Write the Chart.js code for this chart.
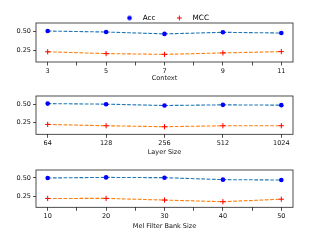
<!DOCTYPE html>
<html>
<head>
<meta charset="utf-8">
<script src="https://cdn.jsdelivr.net/npm/chart.js@4"></script>
<style>
  html, body { margin: 0; padding: 0; background: #fff; }
  #wrap { position: relative; width: 320px; height: 240px; overflow: hidden; }
  canvas { position: absolute; left: 0; }
</style>
</head>
<body>
<div id="wrap">
  <canvas id="c1" width="320" height="85" style="top:0px"></canvas>
  <canvas id="c2" width="320" height="75" style="top:85px"></canvas>
  <canvas id="c3" width="320" height="80" style="top:160px"></canvas>
</div>
<script>
// Context sweep
const contextValues = [3, 5, 7, 9, 11];
const contextMinor = [4, 6, 8, 10];
const contextAcc = [0.504, 0.491, 0.466, 0.487, 0.478];
const contextMcc = [0.230, 0.206, 0.196, 0.215, 0.232];

// Layer size sweep (evenly spaced categories)
const layerSizes = [64, 128, 256, 512, 1024];
const layerAcc = [0.508, 0.500, 0.482, 0.491, 0.487];
const layerMcc = [0.228, 0.210, 0.197, 0.210, 0.210];

// Mel filter bank sweep
const melValues = [10, 20, 30, 40, 50];
const melMinor = [15, 25, 35, 45];
const melAcc = [0.500, 0.508, 0.504, 0.477, 0.472];
const melMcc = [0.217, 0.218, 0.195, 0.172, 0.207];

const yTicks = [0.25, 0.50];

const FONT = 'DejaVu Sans';
const ACC_LINE = '#1f77b4';
const MCC_LINE = '#ff7f0e';

function markerImage(kind, color) {
    const c = document.createElement('canvas');
    c.width = 7; c.height = 7;
    const g = c.getContext('2d');
    if (kind === 'circle') {
        g.fillStyle = color;
        g.beginPath();
        g.arc(3.5, 3.5, 2.3, 0, Math.PI * 2);
        g.fill();
    } else {
        g.strokeStyle = color;
        g.lineWidth = 1;
        g.beginPath();
        g.moveTo(3.5, 1); g.lineTo(3.5, 6);
        g.moveTo(1, 3.5); g.lineTo(6, 3.5);
        g.stroke();
    }
    return c;
}

// box around the axes + legend centred over the axes, like matplotlib
const frame = {
    id: 'frame',
    beforeDraw(chart) {
        if (chart.legend && chart.options.plugins.legend.display) {
            chart.legend.left = chart.chartArea.left;
            chart.legend.right = chart.chartArea.right;
        }
    },
    afterDraw(chart) {
        const a = chart.chartArea;
        const ctx = chart.ctx;
        ctx.save();
        ctx.strokeStyle = '#222';
        ctx.lineWidth = 0.8;
        ctx.strokeRect(a.left, a.top, a.right - a.left, a.bottom - a.top);
        ctx.restore();
    }
};

function makeChart(id, opts) {
    const accPts = opts.xs.map((x, i) => ({ x: x, y: opts.acc[i] }));
    const mccPts = opts.xs.map((x, i) => ({ x: x, y: opts.mcc[i] }));
    const tickVals = opts.major.concat(opts.minor).sort((a, b) => a - b);

    return new Chart(document.getElementById(id), {
        type: 'line',
        data: {
            datasets: [{
                label: 'Acc',
                data: accPts,
                borderColor: ACC_LINE,
                borderWidth: 1.1,
                borderDash: [3.7, 1.6],
                pointStyle: 'circle',
                pointRadius: 2.3,
                pointBackgroundColor: '#0000ff',
                pointBorderColor: '#0000ff',
                pointBorderWidth: 0,
                tension: 0
            }, {
                label: 'MCC',
                data: mccPts,
                borderColor: MCC_LINE,
                borderWidth: 1.1,
                borderDash: [3.7, 1.6],
                pointStyle: 'cross',
                pointRadius: 2.6,
                pointBorderColor: '#ff0000',
                pointBorderWidth: 1,
                tension: 0
            }]
        },
        options: {
            responsive: false,
            animation: false,
            devicePixelRatio: 1,
            layout: { padding: { left: 0, right: 27, top: opts.padTop, bottom: 0 } },
            plugins: {
                tooltip: { enabled: false },
                legend: {
                    display: opts.legend,
                    maxHeight: 23,
                    labels: {
                        usePointStyle: true,
                        pointStyleWidth: 19,
                        padding: 14.3,
                        color: '#111',
                        font: { family: FONT, size: 7.3 },
                        generateLabels: () => [
                            { text: 'Acc', pointStyle: markerImage('circle', '#0000ff'), lineWidth: 0, datasetIndex: 0 },
                            { text: 'MCC', pointStyle: markerImage('cross', '#ff0000'), lineWidth: 0, datasetIndex: 1 }
                        ]
                    }
                }
            },
            scales: {
                x: {
                    type: 'linear',
                    min: opts.xmin,
                    max: opts.xmax,
                    afterFit: s => { s.height = opts.xHeight; },
                    afterBuildTicks: s => { s.ticks = tickVals.map(v => ({ value: v })); },
                    ticks: {
                        autoSkip: false,
                        maxRotation: 0,
                        padding: 1.5,
                        color: '#111',
                        font: { family: FONT, size: 6.5 },
                        callback: v => opts.major.includes(v) ? opts.label(v) : ''
                    },
                    grid: { drawOnChartArea: false, drawTicks: true, tickLength: 3.5, color: '#222', lineWidth: 0.8 },
                    border: { display: false },
                    title: {
                        display: true,
                        text: opts.title,
                        color: '#111',
                        font: { family: FONT, size: 6.5 },
                        padding: { top: 0, bottom: opts.titlePad }
                    }
                },
                y: {
                    min: 0.095,
                    max: 0.61,
                    afterFit: s => { s.width = 36; },
                    afterBuildTicks: s => { s.ticks = yTicks.map(v => ({ value: v })); },
                    ticks: {
                        autoSkip: false,
                        padding: 2,
                        color: '#111',
                        font: { family: FONT, size: 6.5 },
                        callback: v => v.toFixed(2)
                    },
                    grid: { drawOnChartArea: false, drawTicks: true, tickLength: 3, color: '#222', lineWidth: 0.8 },
                    border: { display: false }
                }
            }
        },
        plugins: [frame]
    });
}

makeChart('c1', {
    xs: contextValues, acc: contextAcc, mcc: contextMcc,
    major: contextValues, minor: contextMinor,
    xmin: 2.6, xmax: 11.4, label: v => String(v),
    title: 'Context', legend: true, padTop: 0, xHeight: 23, titlePad: 3.1
});

const layerIdx = layerSizes.map((s, i) => i);
makeChart('c2', {
    xs: layerIdx, acc: layerAcc, mcc: layerMcc,
    major: layerIdx, minor: [],
    xmin: -0.2, xmax: 4.2, label: v => String(layerSizes[v]),
    title: 'Layer Size', legend: false, padTop: 11, xHeight: 25.7, titlePad: 4.1
});

makeChart('c3', {
    xs: melValues, acc: melAcc, mcc: melMcc,
    major: melValues, minor: melMinor,
    xmin: 8, xmax: 52, label: v => String(v),
    title: 'Mel Filter Bank Size', legend: false, padTop: 10, xHeight: 32.7, titlePad: 10.1
});
</script>
</body>
</html>
